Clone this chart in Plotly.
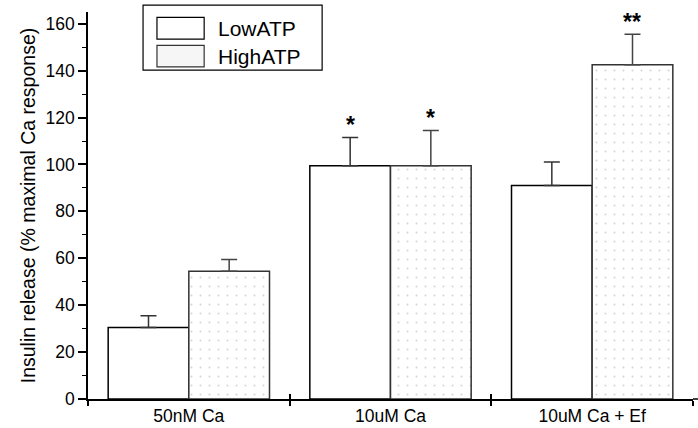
import plotly.graph_objects as go

categories = ["50nM Ca", "10uM Ca", "10uM Ca + Ef"]
low_atp = [30.5, 99.5, 91.0]
low_err = [5.0, 12.0, 10.0]
high_atp = [54.5, 99.5, 142.5]
high_err = [5.0, 15.0, 13.0]
low_stars = ["", "*", ""]
high_stars = ["", "*", "**"]
y_ticks = [0, 20, 40, 60, 80, 100, 120, 140, 160]
boundaries = [-0.5, 0.5, 1.5, 2.5]

FONT = "Liberation Sans, Arial, sans-serif"

fig = go.Figure()
fig.add_trace(go.Bar(
    x=categories, y=low_atp, name="LowATP", offsetgroup="a",
    marker=dict(color="white", line=dict(color="black", width=1.5)),
    error_y=dict(type="data", array=low_err, symmetric=False, arrayminus=[0, 0, 0],
                 color="#333", thickness=1.5, width=8),
    showlegend=False,
))
fig.add_trace(go.Bar(
    x=categories, y=high_atp, name="HighATP", offsetgroup="b",
    marker=dict(color="white", line=dict(color="#333", width=1.5),
                pattern=dict(shape=".", size=9, solidity=0.04, fgcolor="#a8a8a8", bgcolor="white")),
    error_y=dict(type="data", array=high_err, symmetric=False, arrayminus=[0, 0, 0],
                 color="#444", thickness=1.5, width=8),
    showlegend=False,
))
# invisible helper trace for crossing boundary ticks
fig.add_trace(go.Scatter(x=boundaries, y=[0] * len(boundaries), xaxis="x2", mode="markers",
                         marker=dict(opacity=0), hoverinfo="skip", showlegend=False))

# significance stars
for i, c in enumerate(categories):
    if low_stars[i]:
        fig.add_annotation(x=i, xshift=-40.3, y=low_atp[i] + low_err[i], yanchor="bottom", yshift=-3,
                           text="<b>%s</b>" % low_stars[i], showarrow=False,
                           font=dict(family=FONT, size=23, color="black"))
    if high_stars[i]:
        fig.add_annotation(x=i, xshift=40.3, y=high_atp[i] + high_err[i], yanchor="bottom", yshift=-3,
                           text="<b>%s</b>" % high_stars[i], showarrow=False,
                           font=dict(family=FONT, size=23, color="black"))

# x-axis line continues to the right edge
fig.add_shape(type="line", xref="paper", yref="paper", x0=1.0, x1=1.01, y0=0, y1=0,
              line=dict(color="black", width=1.5))

# custom legend
fig.add_shape(type="rect", xref="paper", yref="paper", x0=0.091, x1=0.387, y0=0.85, y1=1.018,
              line=dict(color="black", width=1.2), fillcolor="white", layer="above")
fig.add_shape(type="rect", xref="paper", yref="paper", x0=0.114, x1=0.192, y0=0.93, y1=0.986,
              line=dict(color="black", width=1.2), fillcolor="white", layer="above")
fig.add_shape(type="rect", xref="paper", yref="paper", x0=0.114, x1=0.192, y0=0.858, y1=0.914,
              line=dict(color="#333", width=1.2), fillcolor="#f6f6f6", layer="above")
fig.add_annotation(xref="paper", yref="paper", x=0.212, y=0.958, xanchor="left", yanchor="middle",
                   text="LowATP", showarrow=False, font=dict(family=FONT, size=21, color="black"))
fig.add_annotation(xref="paper", yref="paper", x=0.212, y=0.886, xanchor="left", yanchor="middle",
                   text="HighATP", showarrow=False, font=dict(family=FONT, size=21, color="black"))

fig.update_layout(
    width=698, height=428,
    margin=dict(l=88, r=5, t=12, b=29, autoexpand=False),
    paper_bgcolor="white", plot_bgcolor="white",
    bargap=0.2, bargroupgap=0,
    font=dict(family=FONT, size=17, color="black"),
    xaxis2=dict(overlaying="x", anchor="y", range=[-0.5, 2.5], tickvals=boundaries,
                ticks="inside", ticklen=5, tickwidth=1.5, tickcolor="black", automargin=False,
                showticklabels=False, showgrid=False, zeroline=False, showline=False),
    xaxis=dict(
        range=[-0.5, 2.5], showline=True, linecolor="black", linewidth=1.5, automargin=False,
        ticks="outside", tickson="boundaries", ticklen=5, tickwidth=1.5, tickcolor="black",
        showgrid=False, zeroline=False, tickfont=dict(size=17.5), ticklabelstandoff=0,
    ),
    yaxis=dict(
        range=[0, 165], showline=True, linecolor="black", linewidth=1.5, automargin=False,
        tickvals=y_ticks, ticks="outside", ticklen=8, tickwidth=1.5, tickcolor="black",
        minor=dict(dtick=10, ticks="outside", ticklen=4, tickwidth=1.2, tickcolor="black"),
        showgrid=False, zeroline=False, tickfont=dict(size=17.5),
        title=dict(text="Insulin release (% maximal Ca response)", font=dict(size=19.5), standoff=5),
    ),
)

fig.write_html("out.html")
